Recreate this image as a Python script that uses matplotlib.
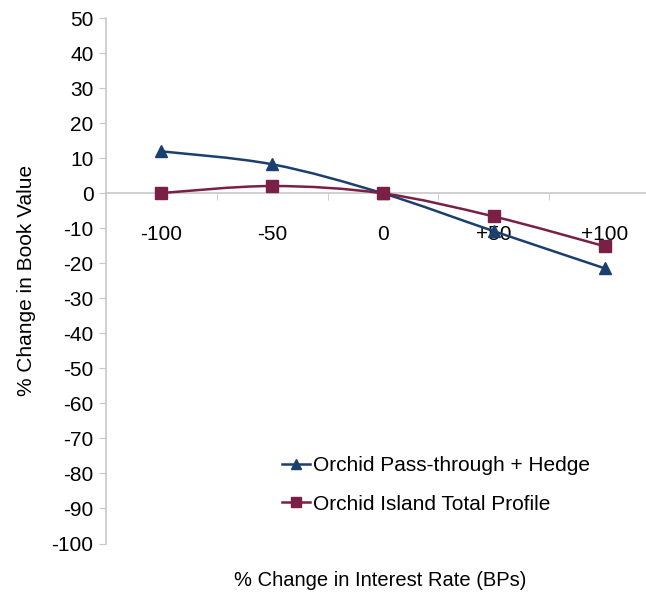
import numpy as np
import matplotlib.pyplot as plt
from matplotlib.path import Path
from matplotlib.patches import PathPatch
from matplotlib.lines import Line2D

plt.rcParams['font.family'] = ['Liberation Sans', 'DejaVu Sans']
plt.rcParams['axes.unicode_minus'] = False

rate_labels = ["-100", "-50", "0", "+50", "+100"]
hedge = [12.0, 8.3, 0.0, -10.8, -21.4]
total = [0.1, 2.1, 0.0, -6.6, -15.1]

blue = "#1b3f6e"
maroon = "#7a1f45"
axis_gray = "#c8c8c8"


def smooth_path(xs, ys):
    # bezier curve through the points, like a spreadsheet "smoothed line"
    p = np.column_stack([xs, ys]).astype(float)
    verts = [p[0]]
    codes = [Path.MOVETO]
    n = len(p)
    for i in range(n - 1):
        p0 = p[i - 1] if i > 0 else p[i]
        p3 = p[i + 2] if i + 2 < n else p[i + 1]
        c1 = p[i] + (p[i + 1] - p0) / 6.0
        c2 = p[i + 1] - (p3 - p[i]) / 6.0
        verts += [c1, c2, p[i + 1]]
        codes += [Path.CURVE4] * 3
    return Path(verts, codes)


fig = plt.figure(figsize=(6.46, 5.99), dpi=100)
ax = fig.add_axes([106 / 646, 55.5 / 599, 554 / 646, 525.2 / 599])

x = np.arange(len(rate_labels))
for ys, col, mk in [(hedge, blue, "^"), (total, maroon, "s")]:
    ax.add_patch(PathPatch(smooth_path(x, ys), facecolor="none",
                           edgecolor=col, lw=1.8, zorder=3))
    ax.plot(x, ys, linestyle="none", marker=mk, color=col,
            markersize=8, zorder=4)

ax.set_xlim(-0.5, 4.5)
ax.set_ylim(-100, 50)
ax.set_yticks(np.arange(-100, 51, 10))

ax.spines['top'].set_visible(False)
ax.spines['right'].set_visible(False)
ax.spines['bottom'].set_position(('data', 0))
for s in ['left', 'bottom']:
    ax.spines[s].set_color(axis_gray)
    ax.spines[s].set_linewidth(1.2)

ax.set_xticks(x)
ax.set_xticklabels(rate_labels)
ax.set_xticks(np.arange(-0.5, 4.6, 1.0), minor=True)
ax.tick_params(axis='x', which='major', length=0, pad=23, labelsize=15)
ax.tick_params(axis='x', which='minor', length=5, color=axis_gray,
               direction='out')
ax.tick_params(axis='y', length=5, color=axis_gray, labelsize=15, pad=4)

fig.text(27 / 646, 1 - 280 / 599, "% Change in Book Value", rotation=90,
         ha='center', va='center', fontsize=15)
fig.text(380 / 646, 1 - 580 / 599, "% Change in Interest Rate (BPs)",
         ha='center', va='center', fontsize=14.5)

handles = [
    Line2D([], [], color=blue, lw=1.8, marker="^", markersize=7),
    Line2D([], [], color=maroon, lw=1.8, marker="s", markersize=7),
]
fig.legend(handles, ["Orchid Pass-through + Hedge", "Orchid Island Total Profile"],
           loc='upper left', bbox_to_anchor=(282 / 646, 1 - 456 / 599),
           frameon=False, fontsize=15, handlelength=1.35, handletextpad=0.15,
           labelspacing=0.95, borderpad=0, borderaxespad=0)

fig.savefig("out.png", dpi=100)
